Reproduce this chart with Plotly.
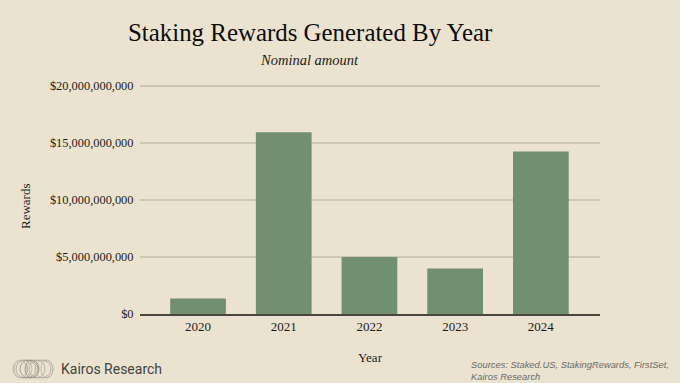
import plotly.graph_objects as go

years = ["2020", "2021", "2022", "2023", "2024"]
rewards = [1.35e9, 15.95e9, 5.0e9, 4.0e9, 14.25e9]
y_ticks = [0, 5e9, 10e9, 15e9, 20e9]
y_labels = ["$0", "$5,000,000,000", "$10,000,000,000", "$15,000,000,000", "$20,000,000,000"]

W, H = 680, 383
L, R, T, B = 140, 600, 85, 314
BG = "#ebe3d0"
SERIF = "Liberation Serif"
SANS = "Liberation Sans"
INK = "#1c1c1a"

fig = go.Figure(go.Bar(x=years, y=rewards, marker=dict(color="#728f70", line_width=0), width=0.65))

def px(x): return (x - L) / (R - L)
def py(y): return (B - y) / (B - T)

annotations = [
    dict(text="Staking Rewards Generated By Year", x=px(310), y=py(32), font=dict(family=SERIF, size=24.9, color="#0c0c0c")),
    dict(text="<i>Nominal amount</i>", x=px(309.5), y=py(60), font=dict(family=SERIF, size=14.5, color=INK)),
    dict(text="Year", x=px(370), y=py(357), font=dict(family=SERIF, size=13, color=INK)),
    dict(text="Rewards", x=px(25), y=py(206), textangle=-90, font=dict(family=SERIF, size=13, color=INK)),
    dict(text="Kairos Research", x=px(59), y=py(369), xanchor="left", font=dict(family="Roboto", size=14, color="#444440")),
    dict(text="<i>Sources: Staked.US, StakingRewards, FirstSet,<br>Kairos Research</i>", x=px(469), y=py(370.5), xanchor="left", align="left",
         font=dict(family=SANS, size=9.4, color="#6a6a66")),
]
for a in annotations:
    a.update(xref="paper", yref="paper", showarrow=False)
    a.setdefault("xanchor", "center")
    a.setdefault("yanchor", "middle")

shapes = []
for cx, rx, col in [(20, 7, "#b5b1a4"), (23, 9, "#b5b1a4"), (26, 10, "#aaa69a"), (29, 9, "#8f8c82"),
                    (32, 7, "#8f8c82"), (36, 9, "#aaa69a"), (40, 11, "#aaa69a"), (44, 9, "#b5b1a4"), (47, 6, "#b5b1a4")]:
    shapes.append(dict(type="circle", xref="paper", yref="paper",
                       x0=px(cx - rx), x1=px(cx + rx), y0=py(378), y1=py(360),
                       line=dict(color=col, width=0.8)))

fig.update_layout(
    width=W, height=H, autosize=False, showlegend=False,
    paper_bgcolor=BG, plot_bgcolor=BG,
    margin=dict(l=L, r=W - R, t=T, b=H - B, pad=0),
    annotations=annotations, shapes=shapes,
    xaxis=dict(type="category", range=[-0.677, 4.69], showgrid=False, ticks="",
               showline=True, linecolor="#4a463e", linewidth=1.5,
               tickfont=dict(family=SERIF, size=13, color=INK)),
    yaxis=dict(range=[0, 20.09e9], tickvals=y_ticks, ticktext=y_labels,
               gridcolor="#cdc6b0", gridwidth=1.5, zeroline=False,
               ticks="outside", ticklen=3, tickcolor=BG,
               tickfont=dict(family=SERIF, size=12.4, color=INK)),
)
fig.write_html("out.html", config=dict(displayModeBar=False),
               post_script="document.body.style.margin='0';document.body.style.background='" + BG + "';")
